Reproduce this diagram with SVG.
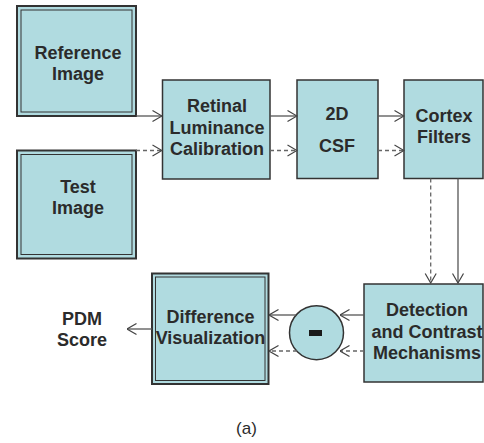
<svg xmlns="http://www.w3.org/2000/svg" width="484" height="443" viewBox="0 0 484 443">
<defs>
<style>
.box{fill:#b0dbe0;stroke:#333;stroke-width:1.5}
.outer{fill:#b0dbe0;stroke:#333;stroke-width:2}
.inner{fill:none;stroke:#333;stroke-width:1}
.t{font-family:"Liberation Sans",Arial,sans-serif;font-weight:bold;font-size:18px;fill:#2b2b2b;text-anchor:middle}
.cap{font-family:"Liberation Sans",Arial,sans-serif;font-size:17px;fill:#2b2b2b;text-anchor:middle}
.s{fill:none;stroke:#555;stroke-width:1.3}
.d{fill:none;stroke:#666;stroke-width:1.3;stroke-dasharray:4 3}
</style>
<marker id="ah" viewBox="0 0 11 13" refX="10.5" refY="6.5" markerWidth="11" markerHeight="13" markerUnits="userSpaceOnUse" orient="auto">
<path d="M1,1 L10.5,6.5 L1,12" fill="none" stroke="#444" stroke-width="1.2"/>
</marker>
</defs>
<rect width="484" height="443" fill="#fff"/>
<g id="reference-image">
<rect class="outer" x="17" y="6" width="119" height="110"/>
<rect class="inner" x="21" y="10" width="111" height="102"/>
<text class="t" x="78" y="59">Reference</text>
<text class="t" x="78" y="80">Image</text>
</g>
<g id="test-image">
<rect class="outer" x="17" y="150.5" width="119" height="108"/>
<rect class="inner" x="21" y="154.5" width="111" height="100"/>
<text class="t" x="78" y="193">Test</text>
<text class="t" x="78" y="214">Image</text>
</g>
<g id="retinal">
<rect class="box" x="162.5" y="80" width="107.5" height="99"/>
<text class="t" x="217" y="112">Retinal</text>
<text class="t" x="217" y="134">Luminance</text>
<text class="t" x="217" y="155">Calibration</text>
</g>
<g id="csf">
<rect class="box" x="297" y="80" width="81" height="98.5"/>
<text class="t" x="337" y="120">2D</text>
<text class="t" x="337" y="152">CSF</text>
</g>
<g id="cortex">
<rect class="box" x="404" y="80" width="79" height="98.5"/>
<text class="t" x="444" y="122">Cortex</text>
<text class="t" x="444" y="143">Filters</text>
</g>
<g id="detection">
<rect class="box" x="364" y="284" width="119" height="98"/>
<text class="t" x="427" y="316">Detection</text>
<text class="t" x="427" y="338">and Contrast</text>
<text class="t" x="427" y="359">Mechanisms</text>
</g>
<g id="minus">
<circle cx="316.5" cy="332.7" r="27" fill="#b0dbe0" stroke="#333" stroke-width="1.5"/>
<rect x="309" y="330" width="13" height="6" fill="#1a1a1a"/>
</g>
<g id="difference">
<rect class="outer" x="152" y="273.5" width="116.5" height="110.5"/>
<rect class="inner" x="155.5" y="277" width="109.5" height="103.5"/>
<text class="t" x="210.5" y="323">Difference</text>
<text class="t" x="210.5" y="344">Visualization</text>
</g>
<g id="pdm">
<text class="t" x="82" y="325">PDM</text>
<text class="t" x="82" y="346">Score</text>
</g>
<g id="connectors">
<line class="s" x1="136" y1="116" x2="162" y2="116" marker-end="url(#ah)"/>
<line class="d" x1="136" y1="150.5" x2="162" y2="150.5" marker-end="url(#ah)"/>
<line class="s" x1="270" y1="116" x2="297" y2="116" marker-end="url(#ah)"/>
<line class="d" x1="270" y1="150.5" x2="297" y2="150.5" marker-end="url(#ah)"/>
<line class="s" x1="378" y1="116" x2="404" y2="116" marker-end="url(#ah)"/>
<line class="d" x1="378" y1="150.5" x2="404" y2="150.5" marker-end="url(#ah)"/>
<line class="d" x1="430.7" y1="178.5" x2="430.7" y2="283" marker-end="url(#ah)"/>
<line class="s" x1="458" y1="178.5" x2="458" y2="283" marker-end="url(#ah)"/>
<line class="s" x1="364" y1="315" x2="340" y2="315" marker-end="url(#ah)"/>
<line class="d" x1="364" y1="351" x2="340" y2="351" marker-end="url(#ah)"/>
<line class="s" x1="296" y1="315" x2="269" y2="315" marker-end="url(#ah)"/>
<line class="d" x1="297" y1="351" x2="269" y2="351" marker-end="url(#ah)"/>
<line class="s" x1="152" y1="329" x2="127" y2="329" marker-end="url(#ah)"/>
</g>
<text class="cap" x="246.5" y="434">(a)</text>
</svg>
